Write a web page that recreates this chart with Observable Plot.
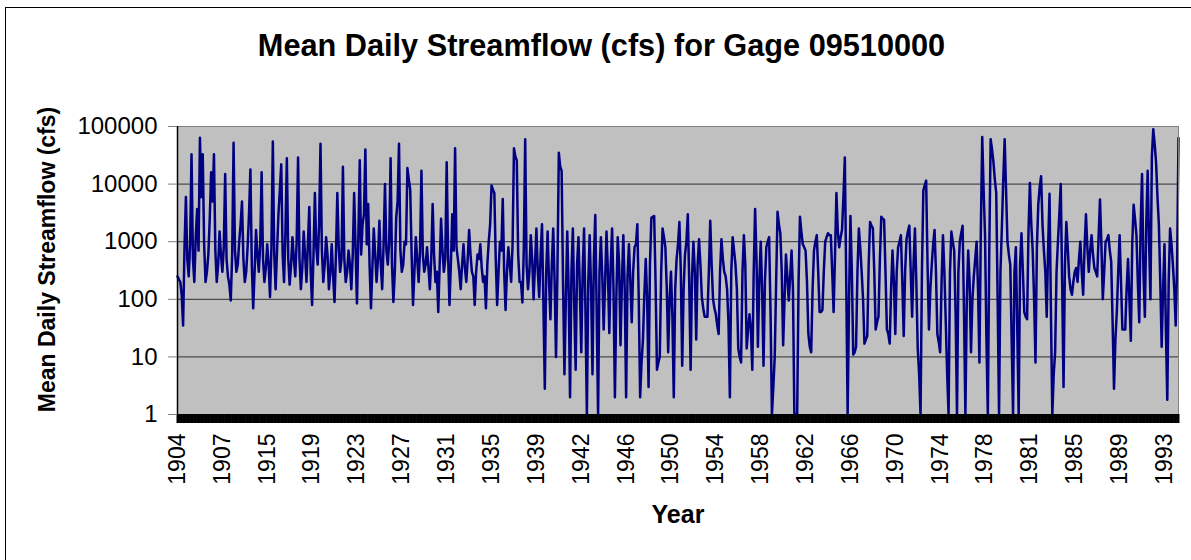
<!DOCTYPE html>
<html><head><meta charset="utf-8">
<script src="https://cdn.jsdelivr.net/npm/d3@7"></script>
<script src="https://cdn.jsdelivr.net/npm/@observablehq/plot@0.6"></script>
<style>
html,body{margin:0;padding:0;background:#fff;}
body{width:1191px;height:560px;position:relative;overflow:hidden;font-family:"Liberation Sans",Arial,sans-serif;}
#frame{position:absolute;left:5px;top:7px;width:1190px;height:560px;border-left:1px solid #000;border-top:1px solid #000;box-sizing:border-box;}
#chart{position:absolute;left:0;top:0;}
#title{position:absolute;left:0;width:1203px;top:30px;text-align:center;font-weight:bold;font-size:30.7px;line-height:31px;color:#000;white-space:nowrap;}
#ytitle{position:absolute;left:-153px;top:248px;width:400px;text-align:center;font-weight:bold;font-size:23px;line-height:23px;transform:rotate(-90deg);transform-origin:50% 50%;white-space:nowrap;}
</style></head><body>
<div id="frame"></div>
<div id="chart"></div>
<div id="title">Mean Daily Streamflow (cfs) for Gage 09510000</div>
<div id="ytitle">Mean Daily Streamflow (cfs)</div>
<script>
// Streamflow (cfs), left to right: local peaks / troughs ...
const extremes = [
  250, 200, 35, 6000, 250, 33000, 200, 3700, 64000, 33000,
  200, 600, 16000, 33000, 200, 1500, 300, 15000, 250, 95,
  52000, 300, 1000, 5000, 200, 800, 18000, 70, 1600, 300,
  16000, 200, 900, 110, 55000, 150, 3000, 22000, 200, 28000,
  180, 1200, 250, 29000, 150, 1500, 200, 4000, 80, 7000,
  400, 50000, 200, 1200, 150, 900, 90, 7000, 300,
  20000, 200, 700, 150, 7000, 85, 26000, 2000, 40000, 4500,
  70, 1700, 200, 2300, 150, 10000, 400, 28000, 90, 2600,
  50000, 300, 1000, 19000, 8000, 80, 1200, 200, 17000, 300,
  800, 150, 4500, 200, 60, 2500, 300, 24000, 80, 3000,
  42000, 500, 150, 900, 200, 1600, 300, 80, 600, 900,
  200, 70, 1000, 9500, 7000, 80, 1000, 5500,
  65, 800, 200, 42000, 26000, 200, 88, 60000, 150, 1300,
  100, 1700, 110, 2000, 2.8, 1500, 45, 1700, 10, 35000,
  17000, 5, 1500, 2, 1700, 6, 1200, 12, 1700, 1,
  1300, 5, 2900, 1, 1200, 30, 1500, 26, 1700, 2,
  1200, 16, 1300, 2, 900, 40, 800, 2000, 2, 20,
  500, 3, 2600, 2800, 6, 10, 1700, 800, 12,
  300, 2, 500, 2200, 7, 600, 3000, 6, 1000, 20,
  1100, 110, 50, 50, 2300, 100, 55, 25, 1100, 300,
  150, 2, 1200, 400, 14, 8, 1300, 14, 55, 6,
  3700, 15, 1000, 7, 800, 1200, 1, 10, 3300, 1400,
  16, 600, 95, 700, 1, 1, 2700, 900, 700, 25,
  12, 700, 1300, 60, 65, 1000, 1400, 1300, 60, 7000,
  800, 1600, 29000, 1, 2800, 11, 15, 1700, 300, 17,
  23, 2200, 1700, 30, 50, 2700, 2400, 30, 17, 700,
  25, 800, 1300, 23, 1100, 1900, 50, 1700, 14, 1,
  7800, 11500, 30, 400, 1600, 25, 12, 1300, 40, 1,
  1500, 700, 1, 1000, 1900, 1, 700, 12, 250, 1000,
  8, 66000, 1300, 1, 60000, 24000, 7000, 1, 1700,
  60000, 1000, 400, 1, 800, 1, 1400, 60, 45, 10500,
  700, 8, 4500, 13700, 700, 50, 6800, 1, 12, 1000,
  10000, 3, 2200, 250, 120, 300, 200, 1000, 120, 3000,
  300, 1300, 350, 250, 5400, 100, 1000, 1300, 450, 2.8,
  60, 1300, 30, 30, 500, 19, 4400, 1300, 40, 15000,
  50, 17000, 100, 90000, 24000, 2000, 15, 900, 1.8, 1700,
  400, 35, 63000
];
// ... and the body level read between each pair of them
const bodyLevels = [
  220, 120, 800, 500, 900, 500, 1200, 700, 6000, 900,
  300, 2500, 5000, 700, 400, 600, 800, 500, 180, 600,
  700, 400, 2000, 500, 300, 3000, 400, 300, 600, 900,
  500, 350, 400, 800, 600, 700, 8000, 600, 1500, 500,
  400, 500, 1000, 500, 350, 600, 900, 300, 600, 800,
  2000, 700, 400, 600, 300, 250, 600, 800, 500,
  500, 300, 400, 600, 800, 1200, 600, 3000, 900, 400,
  350, 600, 500, 400, 900, 700, 1000, 400, 300, 5000,
  700, 400, 900, 12000, 600, 300, 500, 700, 600, 400,
  350, 500, 600, 300, 400, 700, 500, 600, 400, 700,
  800, 300, 400, 350, 500, 600, 250, 300, 500, 350,
  250, 400, 2000, 8000, 500, 300, 700, 300,
  300, 400, 900, 30000, 600, 200, 700, 400, 300, 500,
  400, 300, 600, 80, 300, 200, 400, 200, 300, 20000,
  200, 100, 150, 300, 80, 400, 150, 300, 60, 200,
  150, 500, 60, 300, 250, 200, 300, 400, 150, 100,
  400, 200, 150, 250, 200, 300, 900, 100, 8, 120,
  100, 400, 2700, 200, 8, 300, 1200, 150, 100,
  50, 150, 900, 300, 150, 1000, 200, 250, 300, 400,
  400, 70, 50, 300, 400, 70, 35, 300, 500, 250,
  40, 300, 700, 150, 10, 300, 400, 30, 30, 300,
  500, 200, 150, 200, 1000, 60, 3, 200, 2000, 300,
  100, 250, 250, 150, 1, 200, 1500, 800, 200, 15,
  150, 1000, 300, 60, 300, 1200, 1300, 300, 600, 1500,
  1200, 6000, 200, 100, 300, 12, 300, 800, 100, 20,
  400, 1900, 300, 40, 500, 2500, 300, 25, 150, 200,
  300, 1000, 200, 300, 1500, 300, 400, 200, 5, 300,
  9500, 400, 150, 900, 300, 18, 200, 300, 5, 300,
  1000, 60, 300, 1400, 60, 100, 200, 100, 500, 150,
  1500, 8000, 20, 600, 40000, 12000, 100, 300, 12000,
  8000, 600, 20, 300, 30, 400, 300, 50, 1500, 2000,
  100, 800, 9000, 2000, 300, 800, 60, 5, 300, 3000,
  200, 400, 800, 150, 200, 350, 500, 300, 800, 800,
  700, 600, 300, 1200, 900, 300, 1100, 700, 40, 20,
  300, 200, 30, 150, 100, 900, 2500, 200, 2000, 300,
  2000, 1000, 30000, 50000, 6000, 200, 150, 30, 200, 900,
  150, 400
];
const xLabels = ["1904","1907","1915","1919","1923","1927","1931","1935","1939","1942","1946","1950",
  "1954","1958","1962","1966","1970","1974","1978","1981","1985","1989","1993"];
const labelStride = 32;
const yTicks = [1, 10, 100, 1000, 10000, 100000];
const xTitle = "Year";

// full series in reading order
const flow = extremes.flatMap((v, i) => i < bodyLevels.length ? [v, bodyLevels[i]] : [v]);
const idx = flow.map((d, i) => i);
const labelIdx = xLabels.map((_, i) => i * labelStride);

const chart = Plot.plot({
  width: 1191, height: 560,
  marginLeft: 177, marginRight: 13, marginTop: 126, marginBottom: 146,
  style: {fontFamily: '"Liberation Sans", Arial, sans-serif', fontSize: "23px", background: "transparent", overflow: "visible", color: "black"},
  x: {domain: [0, flow.length - 1]},
  y: {type: "log", domain: [1, 100000]},
  marks: [
    Plot.frame({fill: "#c0c0c0"}),
    Plot.ruleY(yTicks, {stroke: "#303030", strokeWidth: 1}),
    Plot.lineY(flow, {x: (d, i) => i, y: d => d, stroke: "#000080", strokeWidth: 2.5}),
    Plot.frame({stroke: "#808080"}),
    Plot.ruleX([0], {stroke: "black", strokeWidth: 1.5}),
    Plot.axisX(idx, {tickSize: 9, stroke: "black", strokeWidth: 2, tickFormat: () => "", label: null}),
    Plot.axisX(labelIdx, {tickSize: 0, tickPadding: 19, tickRotate: -90, tickFormat: i => xLabels[i / labelStride], label: null, fontSize: 23}),
    Plot.axisY(yTicks, {tickSize: 9, stroke: "#808080", tickPadding: 11, tickFormat: d => String(d), label: null, fontSize: 24}),
    Plot.text([xTitle], {text: d => d, frameAnchor: "bottom", dy: 108, fontWeight: "bold", fontSize: 25})
  ]
});
document.getElementById("chart").appendChild(chart);
</script>
</body></html>
